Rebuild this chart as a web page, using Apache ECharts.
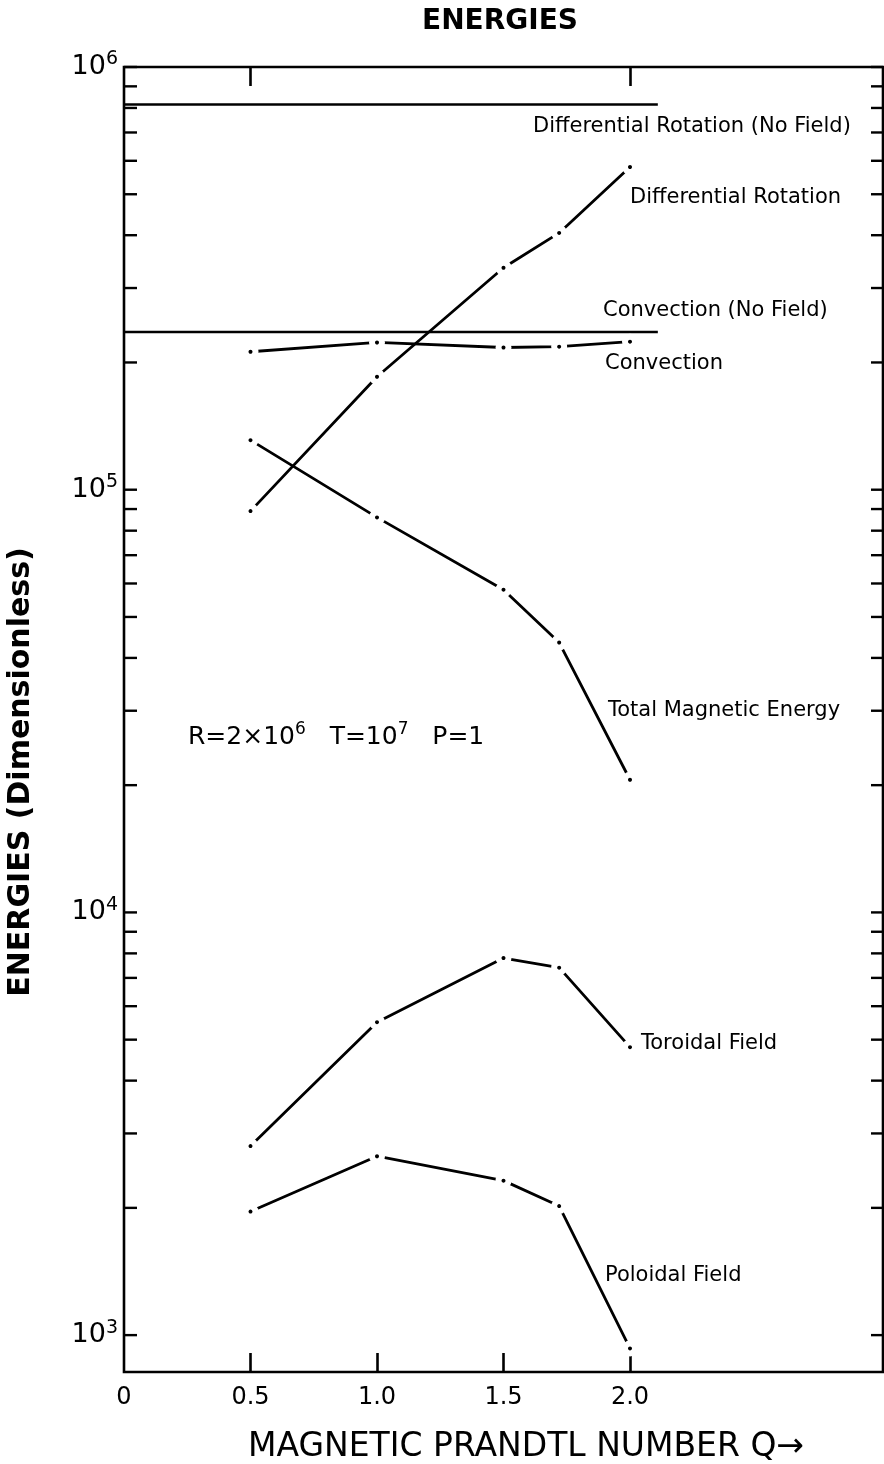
<!DOCTYPE html>
<html>
<head>
<meta charset="utf-8">
<title>Energies</title>
<script src="https://cdn.jsdelivr.net/npm/echarts@6/dist/echarts.min.js"></script>
<style>
  html, body { margin: 0; padding: 0; background: #fff; }
  #chart { width: 884px; height: 1464px; }
</style>
</head>
<body>
<div id="chart"></div>
<script>
// magnetic Prandtl number Q at which runs were made
const qValues = [0.5, 1.0, 1.5, 1.72, 2.0];
// energies (dimensionless)
const diffRotation = [8.9e4, 1.85e5, 3.35e5, 4.05e5, 5.8e5];
const convection = [2.12e5, 2.23e5, 2.17e5, 2.18e5, 2.24e5];
const totalMagnetic = [1.31e5, 8.6e4, 5.8e4, 4.35e4, 2.06e4];
const toroidalField = [2.8e3, 5.5e3, 7.8e3, 7.4e3, 4.8e3];
const poloidalField = [1.96e3, 2.65e3, 2.32e3, 2.02e3, 9.3e2];
// reference runs without magnetic field (horizontal lines)
const noFieldQ = [0, 2.11];
const diffRotationNoField = 8.15e5;
const convectionNoField = 2.36e5;
// axes
const xLabelValues = [0, 0.5, 1.0, 1.5, 2.0];
const xBottomTicks = [0.5, 1.0, 1.5, 2.0];
const xTopTicks = [0.5, 2.0];
const yDecades = [1e3, 1e4, 1e5, 1e6];
const yMinorMultiples = [2, 3, 4, 5, 6, 7, 8, 9];

const FONT = '"DejaVu Sans", "Noto Sans", sans-serif';
const chart = echarts.init(document.getElementById('chart'));

function pairs(ys) {
    return qValues.map((q, i) => [q, ys[i]]);
}

// 点划线: solid segments, a dot at each run with a small gap round it
function dashDot(name, ys) {
    return {
        name: name,
        type: 'line',
        data: pairs(ys),
        symbol: 'circle',
        symbolSize: 10,
        itemStyle: { color: '#000', borderColor: '#fff', borderWidth: 6 },
        lineStyle: { color: '#000', width: 2.8 },
        z: 3
    };
}

function flatLine(name, v) {
    return {
        name: name,
        type: 'line',
        data: noFieldQ.map(q => [q, v]),
        symbol: 'none',
        lineStyle: { color: '#000', width: 2.6 },
        z: 2
    };
}

// y ticks: decades + 2..9 minors, drawn on both sides
const yTicks = [];
yDecades.forEach((d, i) => {
    yTicks.push([0, d, 1]);
    if (i < yDecades.length - 1) {
        yMinorMultiples.forEach(m => yTicks.push([0, m * d, 0]));
    }
});

const option = {
    animation: false,
    grid: {
        left: 124,
        right: 1,
        top: 67,
        bottom: 92,
        show: true,
        borderColor: '#000',
        borderWidth: 2.6
    },
    xAxis: [
        {
            type: 'value',
            min: 0,
            max: 3,
            interval: 0.5,
            position: 'bottom',
            axisLine: { show: false },
            splitLine: { show: false },
            axisTick: {
                inside: true,
                length: 19,
                customValues: xBottomTicks,
                lineStyle: { color: '#000', width: 2.6 }
            },
            axisLabel: {
                customValues: xLabelValues,
                formatter: v => (v === 0 ? '0' : v.toFixed(1)),
                color: '#000',
                fontSize: 24,
                fontFamily: FONT,
                margin: 14
            }
        },
        {
            type: 'value',
            min: 0,
            max: 3,
            interval: 0.5,
            position: 'top',
            axisLine: { show: false },
            splitLine: { show: false },
            axisTick: {
                inside: true,
                length: 19,
                customValues: xTopTicks,
                lineStyle: { color: '#000', width: 2.6 }
            },
            axisLabel: { show: false }
        }
    ],
    yAxis: {
        type: 'log',
        logBase: 10,
        min: 818,
        max: 1e6,
        axisLine: { show: false },
        axisTick: { show: false },
        axisLabel: { show: false },
        splitLine: { show: false }
    },
    graphic: [
        {
            type: 'text', x: 500, y: 22,
            style: {
                text: 'ENERGIES', font: 'bold 28px ' + FONT, fill: '#000',
                align: 'center', verticalAlign: 'middle'
            }
        },
        {
            type: 'text', x: 21, y: 772, rotation: Math.PI / 2,
            style: {
                text: 'ENERGIES (Dimensionless)', font: '600 30px ' + FONT, fill: '#000',
                align: 'center', verticalAlign: 'middle'
            }
        },
        {
            type: 'text', x: 526, y: 1447,
            style: {
                text: 'MAGNETIC PRANDTL NUMBER Q\u2192', font: '33px ' + FONT, fill: '#000',
                align: 'center', verticalAlign: 'middle'
            }
        },
        {
            type: 'text', x: 188, y: 737,
            style: {
                text: '{n|R=2\u00d710}{s|6}{n|   T=10}{s|7}{n|   P=1}',
                verticalAlign: 'middle',
                rich: {
                    n: { fontSize: 25, fontFamily: FONT, color: '#000' },
                    s: { fontSize: 17, fontFamily: FONT, color: '#000', padding: [0, 0, 15, 0] }
                }
            }
        },
        ...[
            ['Differential Rotation (No Field)', 533, 127],
            ['Differential Rotation', 630, 198],
            ['Convection (No Field)', 603, 311],
            ['Convection', 605, 364],
            ['Total Magnetic Energy', 608, 711],
            ['Toroidal Field', 641, 1044],
            ['Poloidal Field', 605, 1276]
        ].map(t => ({
            type: 'text', x: t[1], y: t[2],
            style: { text: t[0], font: '21px ' + FONT, fill: '#000', verticalAlign: 'middle' }
        }))
    ],
    series: [
        flatLine('Differential Rotation (No Field)', diffRotationNoField),
        flatLine('Convection (No Field)', convectionNoField),
        dashDot('Differential Rotation', diffRotation),
        dashDot('Convection', convection),
        dashDot('Total Magnetic Energy', totalMagnetic),
        dashDot('Toroidal Field', toroidalField),
        dashDot('Poloidal Field', poloidalField),
        {
            name: 'yTicks',
            type: 'custom',
            data: yTicks,
            encode: { x: 0, y: 1 },
            silent: true,
            z: 4,
            renderItem: function (params, api) {
                const v = api.value(1);
                const l = api.coord([0, v]);
                const r = api.coord([3, v]);
                const children = [
                    { type: 'line', shape: { x1: l[0], y1: l[1], x2: l[0] + 13, y2: l[1] }, style: { stroke: '#000', lineWidth: 2.4 } },
                    { type: 'line', shape: { x1: r[0] - 12, y1: r[1], x2: r[0], y2: r[1] }, style: { stroke: '#000', lineWidth: 2.4 } }
                ];
                if (api.value(2) === 1) {
                    children.push({
                        type: 'text',
                        style: {
                            text: '{b|10}{s|' + Math.round(Math.log10(v)) + '}',
                            x: l[0] - 6,
                            y: l[1],
                            align: 'right',
                            verticalAlign: 'middle',
                            rich: {
                                b: { fontSize: 27, fontFamily: FONT, color: '#000' },
                                s: { fontSize: 19, fontFamily: FONT, color: '#000', padding: [0, 0, 15, 0] }
                            }
                        }
                    });
                }
                return { type: 'group', children: children };
            }
        }
    ]
};

chart.setOption(option);
</script>
</body>
</html>
